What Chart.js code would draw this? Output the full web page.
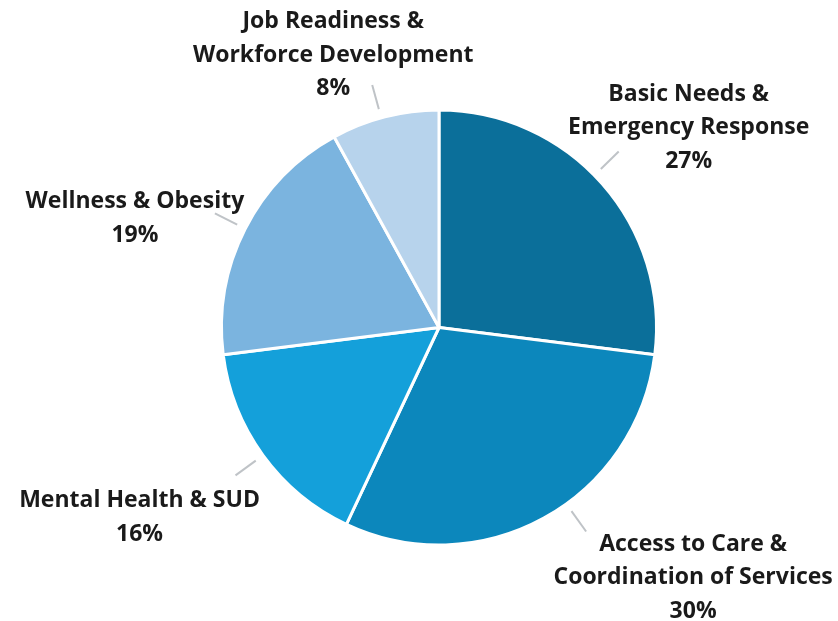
<!DOCTYPE html>
<html>
<head>
<meta charset="utf-8">
<title>Priority Areas</title>
<script src="https://cdn.jsdelivr.net/npm/chart.js@4.4.1/dist/chart.umd.min.js"></script>
<style>
    html, body { margin: 0; padding: 0; background: #ffffff; }
    #wrap { width: 838px; height: 621px; }
</style>
</head>
<body>
<div id="wrap"><canvas id="priorityChart" width="838" height="621"></canvas></div>
<script>
// Funding shares by priority area, clockwise from 12 o'clock
const categories = [
    'Basic Needs & Emergency Response',
    'Access to Care & Coordination of Services',
    'Mental Health & SUD',
    'Wellness & Obesity',
    'Job Readiness & Workforce Development'
];
const labelLines = [
    ['Basic Needs &', 'Emergency Response'],
    ['Access to Care &', 'Coordination of Services'],
    ['Mental Health & SUD'],
    ['Wellness & Obesity'],
    ['Job Readiness &', 'Workforce Development']
];
const shares = [27, 30, 16, 19, 8];
const sliceColors = ['#0b6f9a', '#0c87bc', '#14a0da', '#7bb4df', '#b7d3ec'];

// Small rotation of each leader line away from the slice middle (degrees)
const leaderTurn = [-3, -7, 0, 0, -1];
// Where each label block sits, relative to the outer end of its leader line
const labelShift = [[70, -24], [107, 46], [-96, 42], [-80, 5], [-39, -30]];

// Leader lines + multi-line labels around the pie
const outsideLabels = {
    id: 'outsideLabels',
    afterDraw(chart) {
        const ctx = chart.ctx;
        const meta = chart.getDatasetMeta(0);
        meta.data.forEach((arc, i) => {
            const p = arc.getProps(['x', 'y', 'startAngle', 'endAngle', 'outerRadius'], true);
            const mid = (p.startAngle + p.endAngle) / 2 + leaderTurn[i] * Math.PI / 180;
            const r1 = p.outerRadius + 9;
            const r2 = p.outerRadius + 34;
            const x1 = p.x + Math.cos(mid) * r1, y1 = p.y + Math.sin(mid) * r1;
            const x2 = p.x + Math.cos(mid) * r2, y2 = p.y + Math.sin(mid) * r2;

            ctx.save();
            ctx.strokeStyle = '#bfc3c7';
            ctx.lineWidth = 2;
            ctx.beginPath();
            ctx.moveTo(x1, y1);
            ctx.lineTo(x2, y2);
            ctx.stroke();

            const lines = labelLines[i].concat([shares[i] + '%']);
            const lh = 33.5;
            const cx = x2 + labelShift[i][0];
            const cy = y2 + labelShift[i][1] - (lines.length - 1) * lh / 2;
            ctx.fillStyle = '#1a1a1a';
            ctx.font = '700 23px "Open Sans", sans-serif';
            ctx.textAlign = 'center';
            ctx.textBaseline = 'middle';
            lines.forEach((t, k) => ctx.fillText(t, cx, cy + k * lh));
            ctx.restore();
        });
    }
};

new Chart(document.getElementById('priorityChart').getContext('2d'), {
    type: 'pie',
    data: {
        labels: categories,
        datasets: [{
            data: shares,
            backgroundColor: sliceColors,
            borderColor: '#ffffff',
            borderWidth: 3
        }]
    },
    options: {
        responsive: false,
        animation: false,
        layout: { padding: { left: 220, right: 180, top: 108, bottom: 74 } },
        plugins: {
            legend: { display: false },
            tooltip: { enabled: false }
        }
    },
    plugins: [outsideLabels]
});
</script>
</body>
</html>
